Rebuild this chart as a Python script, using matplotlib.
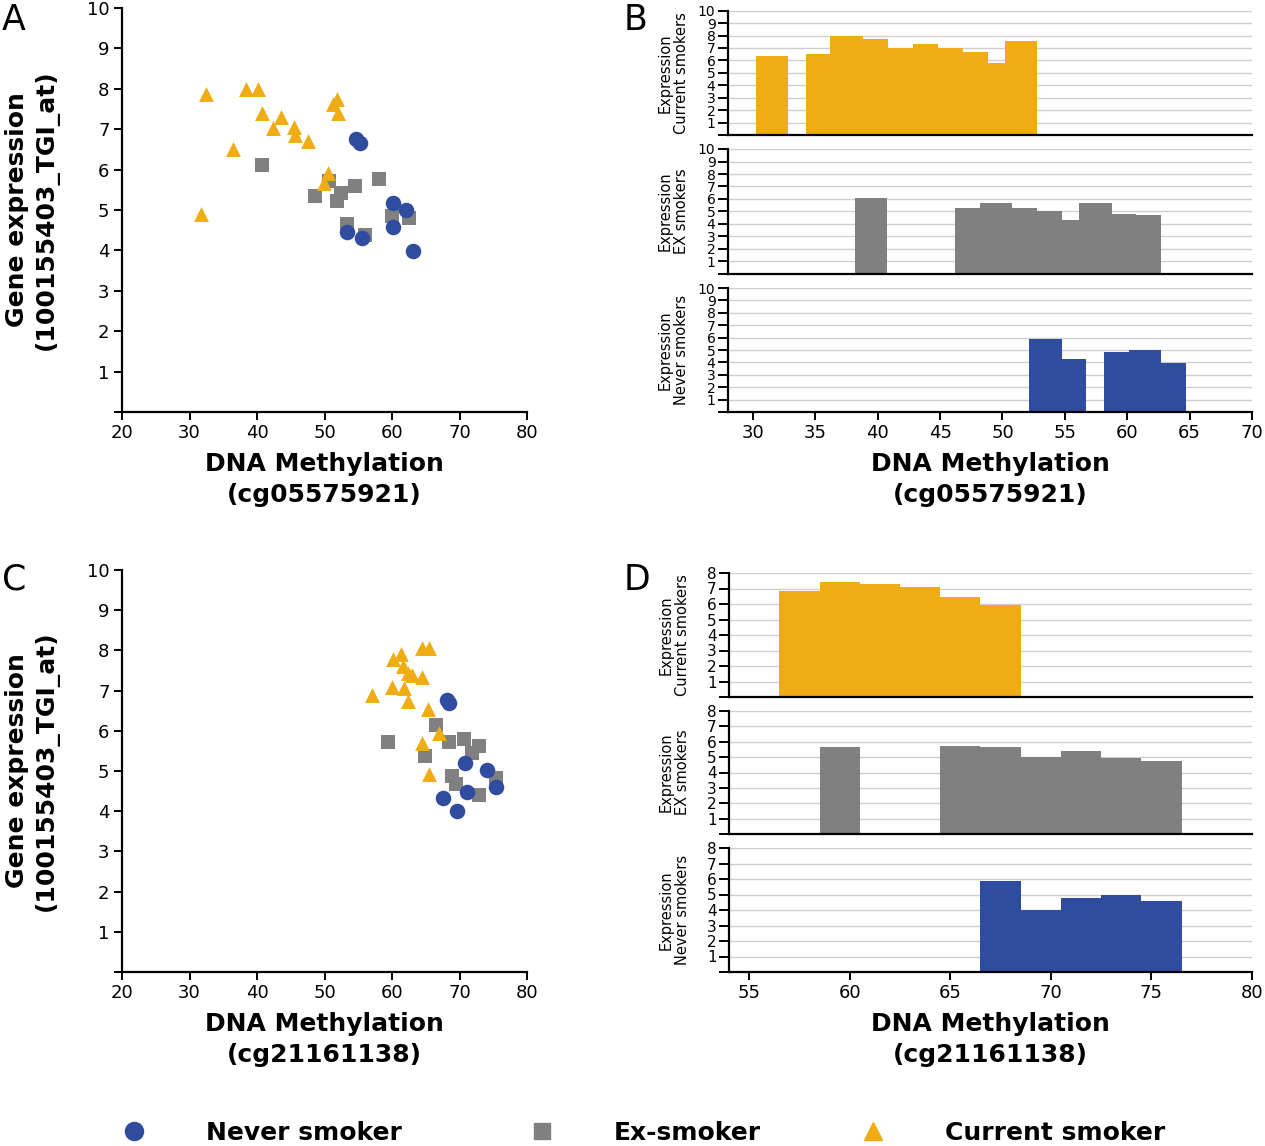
import numpy as np
import matplotlib
matplotlib.use('Agg')
import matplotlib.pyplot as plt

ORANGE = '#F0AC14'
GREY = '#808080'
BLUE = '#2F4C9F'

# ---- panel A : cg05575921 vs 100155403_TGI_at (scatter)
a_never_meth = [54.7, 55.2, 60.2, 62.0, 60.2, 53.4, 55.5, 63.1]
a_never_expr = [6.75, 6.67, 5.17, 5.00, 4.59, 4.45, 4.31, 3.99]
a_ex_meth = [40.7, 50.6, 48.6, 52.5, 51.8, 54.5, 58.1, 53.4, 56.0, 60.0, 62.5]
a_ex_expr = [6.11, 5.72, 5.35, 5.41, 5.23, 5.60, 5.76, 4.65, 4.38, 4.85, 4.79]
a_cur_meth = [32.4, 38.4, 40.2, 40.7, 43.5, 42.3, 45.5, 45.7, 47.5, 36.5,
              31.7, 51.2, 51.9, 52.0, 50.5, 49.9]
a_cur_expr = [7.87, 8.00, 8.00, 7.41, 7.31, 7.02, 7.06, 6.86, 6.72, 6.50,
              4.90, 7.62, 7.75, 7.39, 5.91, 5.68]

# ---- panel C : cg21161138 vs 100155403_TGI_at (scatter)
c_never_meth = [68.2, 68.4, 70.8, 74.0, 75.4, 71.1, 67.5, 69.7]
c_never_expr = [6.77, 6.68, 5.19, 5.02, 4.61, 4.47, 4.33, 4.01]
c_ex_meth = [59.4, 66.5, 68.4, 70.6, 72.9, 71.8, 64.9, 68.9, 69.5, 75.4, 72.9]
c_ex_expr = [5.73, 6.14, 5.73, 5.79, 5.62, 5.46, 5.38, 4.88, 4.67, 4.82, 4.40]
c_cur_meth = [57.1, 60.2, 61.4, 61.6, 62.4, 63.0, 64.4, 65.5, 64.4, 60.0,
              61.8, 62.3, 65.4, 67.0, 64.4, 65.5]
c_cur_expr = [6.90, 7.78, 7.91, 7.61, 7.45, 7.40, 8.05, 8.05, 7.33, 7.10,
              7.06, 6.75, 6.53, 5.95, 5.69, 4.93]

# ---- panel B : mean expression per methylation bin (bin low / high edge)
b_cur_lo = [30.26, 34.25, 36.2, 38.8, 40.8, 42.8, 44.8, 46.8, 48.8, 50.2]
b_cur_hi = [32.8, 36.2, 38.8, 40.8, 42.8, 44.8, 46.8, 48.8, 50.2, 52.8]
b_cur_expr = [6.38, 6.51, 7.99, 7.69, 7.00, 7.29, 6.97, 6.70, 5.79, 7.59]
b_ex_lo = [38.19, 46.18, 48.17, 50.79, 52.8, 54.75, 56.16, 58.75, 60.73]
b_ex_hi = [40.78, 48.17, 50.79, 52.8, 54.75, 56.16, 58.75, 60.73, 62.71]
b_ex_expr = [6.06, 5.31, 5.66, 5.25, 5.07, 4.34, 5.71, 4.83, 4.75]
b_never_lo = [52.16, 54.75, 58.17, 60.16, 62.71]
b_never_hi = [54.75, 56.73, 60.16, 62.71, 64.73]
b_never_expr = [5.92, 4.26, 4.85, 4.96, 3.94]

# ---- panel D
d_cur_lo = [56.5, 58.5, 60.5, 62.5, 64.5, 66.5]
d_cur_hi = [58.5, 60.5, 62.5, 64.5, 66.5, 68.5]
d_cur_expr = [6.86, 7.40, 7.31, 7.10, 6.45, 5.91]
d_ex_lo = [58.5, 64.5, 66.5, 68.5, 70.5, 72.5, 74.5]
d_ex_hi = [60.5, 66.5, 68.5, 70.5, 72.5, 74.5, 76.5]
d_ex_expr = [5.66, 5.73, 5.66, 5.04, 5.38, 4.95, 4.76]
d_never_lo = [66.5, 68.5, 70.5, 72.5, 74.5]
d_never_hi = [68.5, 70.5, 72.5, 74.5, 76.5]
d_never_expr = [5.88, 3.99, 4.79, 4.98, 4.59]

groups = ['Never smoker', 'Ex-smoker', 'Current smoker']

W, H = 1265, 1146
fig = plt.figure(figsize=(W / 100, H / 100), dpi=100)


def px_axes(x0, x1, ytop, ybot):
    return fig.add_axes([x0 / W, 1 - ybot / H, (x1 - x0) / W, (ybot - ytop) / H])


def style_spines(ax):
    for s in ['top', 'right']:
        ax.spines[s].set_visible(False)
    for s in ['left', 'bottom']:
        ax.spines[s].set_linewidth(1.6)


def scatter_panel(ax, never, ex, cur, xlabel):
    ax.scatter(ex[0], ex[1], marker='s', s=110, c=GREY, linewidths=0, zorder=2)
    ax.scatter(never[0], never[1], marker='o', s=125, c=BLUE, linewidths=0, zorder=3)
    ax.scatter(cur[0], cur[1], marker='^', s=115, c=ORANGE, linewidths=0, zorder=4)
    ax.set_xlim(20, 80)
    ax.set_ylim(0, 10)
    ax.set_xticks(range(20, 81, 10))
    ax.set_yticks(range(0, 11))
    ax.set_yticklabels([''] + [str(i) for i in range(1, 11)])
    style_spines(ax)
    ax.tick_params(direction='out', length=6, width=1.4, labelsize=13, pad=3)
    ax.set_xlabel(xlabel, fontsize=18, fontweight='bold', labelpad=7, linespacing=1.35)


def bar_panel(ax, lo, hi, expr, color, ymax, xlim, ylabel, tick_fs, bottom=False, xticks=None):
    ax.bar(lo, expr, width=np.subtract(hi, lo), align='edge', color=color,
           linewidth=0, zorder=2)
    ax.set_xlim(xlim)
    ax.set_ylim(0, ymax)
    ax.set_yticks(range(0, ymax + 1))
    ax.set_yticklabels([''] + [str(i) for i in range(1, ymax + 1)])
    ax.yaxis.grid(True, color='#cfcfcf', lw=1)
    ax.set_axisbelow(True)
    style_spines(ax)
    ax.tick_params(axis='y', direction='out', length=7, width=1.4,
                   labelsize=tick_fs, pad=2)
    if bottom:
        ax.set_xticks(xticks)
        ax.tick_params(axis='x', direction='out', length=6, width=1.4,
                       labelsize=13, pad=3)
    else:
        ax.tick_params(axis='x', bottom=False, labelbottom=False)
    ax.set_ylabel(ylabel, fontsize=10.5, linespacing=1.1)
    ax.yaxis.set_label_coords(-0.075, 0.5)


# scatter A and C
axA = px_axes(122, 527, 8, 412)
scatter_panel(axA, (a_never_meth, a_never_expr), (a_ex_meth, a_ex_expr),
              (a_cur_meth, a_cur_expr), 'DNA Methylation\n(cg05575921)')
axC = px_axes(122, 527, 570, 972)
scatter_panel(axC, (c_never_meth, c_never_expr), (c_ex_meth, c_ex_expr),
              (c_cur_meth, c_cur_expr), 'DNA Methylation\n(cg21161138)')

for ycen in [210, 771]:
    fig.text(32 / W, 1 - ycen / H, 'Gene expression\n(100155403_TGI_at)', rotation=90,
             ha='center', va='center', fontsize=18, fontweight='bold',
             multialignment='center', linespacing=1.3)

# bar panels B
b_rows = [(10.7, 135, b_cur_lo, b_cur_hi, b_cur_expr, ORANGE, 'Expression\nCurrent smokers'),
          (149, 274, b_ex_lo, b_ex_hi, b_ex_expr, GREY, 'Expression\nEX smokers'),
          (288, 412, b_never_lo, b_never_hi, b_never_expr, BLUE, 'Expression\nNever smokers')]
for i, (yt, yb, lo, hi, ex, col, lab) in enumerate(b_rows):
    ax = px_axes(728, 1252, yt, yb)
    last = i == 2
    bar_panel(ax, lo, hi, ex, col, 10, (28, 70), lab, 10, bottom=last,
              xticks=range(30, 71, 5))
    if last:
        ax.set_xlabel('DNA Methylation\n(cg05575921)', fontsize=18, fontweight='bold',
                      labelpad=7, linespacing=1.35)

d_rows = [(573, 697, d_cur_lo, d_cur_hi, d_cur_expr, ORANGE, 'Expression\nCurrent smokers'),
          (711, 834, d_ex_lo, d_ex_hi, d_ex_expr, GREY, 'Expression\nEX smokers'),
          (848, 972, d_never_lo, d_never_hi, d_never_expr, BLUE, 'Expression\nNever smokers')]
for i, (yt, yb, lo, hi, ex, col, lab) in enumerate(d_rows):
    ax = px_axes(729, 1252, yt, yb)
    last = i == 2
    bar_panel(ax, lo, hi, ex, col, 8, (54, 80), lab, 11, bottom=last,
              xticks=range(55, 81, 5))
    if last:
        ax.set_xlabel('DNA Methylation\n(cg21161138)', fontsize=18, fontweight='bold',
                      labelpad=7, linespacing=1.35)

# panel letters
for lab, x, y in [('A', 2, 3), ('B', 624, 3), ('C', 2, 563), ('D', 624, 563)]:
    fig.text(x / W, 1 - y / H, lab, ha='left', va='top', fontsize=25)

# legend along the bottom, one entry per smoking group
handles = [plt.Line2D([], [], marker='o', ls='', color=BLUE, markersize=13),
           plt.Line2D([], [], marker='s', ls='', color=GREY, markersize=12),
           plt.Line2D([], [], marker='^', ls='', color=ORANGE, markersize=13)]
for h, name, xpx in zip(handles, groups, [121, 529, 860]):
    fig.legend([h], [name], loc='center left', bbox_to_anchor=(xpx / W, 1 - 1133 / H),
               frameon=False, prop={'size': 18, 'weight': 'bold'},
               handlelength=1.0, handletextpad=2.4, borderpad=0, borderaxespad=0)

fig.savefig('out.png', dpi=100)
